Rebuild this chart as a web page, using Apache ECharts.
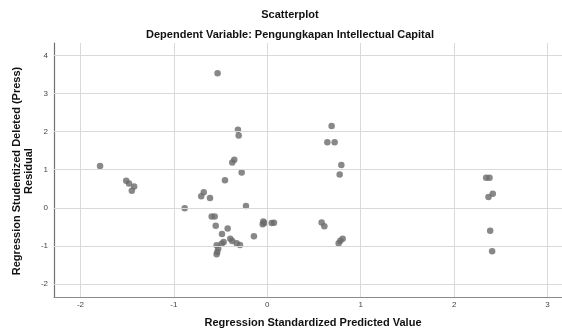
<!DOCTYPE html>
<html>
<head>
<meta charset="utf-8">
<script src="https://cdn.jsdelivr.net/npm/echarts@6/dist/echarts.min.js"></script>
<style>html,body{margin:0;padding:0;background:#fff}#c{width:562px;height:331px}</style>
</head>
<body>
<div id="c"></div>
<script>
const titleText = 'Scatterplot';
const subtitleText = 'Dependent Variable: Pengungkapan Intellectual Capital';
const xAxisTitle = 'Regression Standardized Predicted Value';
const yAxisTitle1 = 'Regression Studentized Deleted (Press)';
const yAxisTitle2 = 'Residual';
const xTicks = [-2, -1, 0, 1, 2, 3];
const yTicks = [-2, -1, 0, 1, 2, 3, 4];
const predicted = [
  -1.79, -1.51, -1.48, -1.425, -1.45, -0.884, -0.68, -0.707, -0.613, -0.532,
  -0.595, -0.563, -0.552, -0.453, -0.424, -0.485, -0.467, -0.488, -0.542, -0.525,
  -0.535, -0.542, -0.396, -0.375, -0.328, -0.292, -0.375, -0.353, -0.314, -0.306,
  -0.274, -0.228, -0.143, -0.049, -0.043, -0.032, 0.047, 0.072, 0.689, 0.643,
  0.721, 0.793, 0.775, 0.582, 0.611, 0.807, 0.782, 0.764, 2.343, 2.379,
  2.414, 2.368, 2.386, 2.407
];
const residual = [
  1.10, 0.71, 0.64, 0.56, 0.45, -0.01, 0.41, 0.30, 0.255, 3.53,
  -0.23, -0.23, -0.47, 0.725, -0.545, -0.69, -0.895, -0.947, -0.982, -1.07,
  -1.158, -1.22, -0.81, -0.87, -0.93, -0.98, 1.19, 1.263, 2.05, 1.895,
  0.925, 0.05, -0.746, -0.43, -0.36, -0.40, -0.40, -0.39, 2.149, 1.719,
  1.719, 1.123, 0.877, -0.386, -0.482, -0.816, -0.868, -0.93, 0.789, 0.789,
  0.368, 0.281, -0.605, -1.14
];
const points = predicted.map((x, i) => [x, residual[i]]);
const chart = echarts.init(document.getElementById('c'), null, {renderer: 'canvas'});
const boldFont = 'bold 11px "Liberation Sans", Arial, sans-serif';
const labelFont = '"Liberation Sans", Arial, sans-serif';
const gridLineStyle = {color: '#d9d9d9', width: 1, type: 'solid'};
const markData = xTicks.map(v => ({xAxis: v})).concat(yTicks.map(v => ({yAxis: v})));
chart.setOption({
  animation: false,
  backgroundColor: '#fff',
  grid: {left: 54, top: 43, right: 0, bottom: 34, containLabel: false},
  xAxis: {
    type: 'value', min: -2.283, max: 3.155,
    axisLine: {show: true, onZero: false, lineStyle: {color: '#8a8a8a', width: 1.2}},
    axisTick: {show: false},
    splitLine: {show: false},
    axisLabel: {
      margin: 4, fontSize: 8, color: '#444', fontFamily: labelFont,
      customValues: xTicks
    }
  },
  yAxis: {
    type: 'value', min: -2.342, max: 4.326,
    axisLine: {show: true, onZero: false, lineStyle: {color: '#707070', width: 1.2}},
    axisTick: {show: false},
    splitLine: {show: false},
    axisLabel: {
      margin: 6, fontSize: 8, color: '#444', fontFamily: labelFont,
      customValues: yTicks
    }
  },
  series: [{
    type: 'scatter',
    data: [],
    z: 1,
    silent: true,
    markLine: {
      silent: true,
      symbol: ['none', 'none'],
      label: {show: false},
      lineStyle: gridLineStyle,
      emphasis: {disabled: true},
      data: markData
    }
  }, {
    type: 'scatter',
    data: points,
    z: 3,
    symbol: 'circle',
    symbolSize: 6.5,
    itemStyle: {color: '#6a6a6a'}
  }],
  graphic: [
    {type: 'text', x: 290, y: 15, style: {text: titleText, font: boldFont, fill: '#111', textAlign: 'center', textVerticalAlign: 'middle'}},
    {type: 'text', x: 290, y: 35, style: {text: subtitleText, font: boldFont, fill: '#111', textAlign: 'center', textVerticalAlign: 'middle'}},
    {type: 'text', x: 313, y: 323, style: {text: xAxisTitle, font: boldFont, fill: '#111', textAlign: 'center', textVerticalAlign: 'middle'}},
    {type: 'text', x: 17, y: 171, rotation: Math.PI / 2, style: {text: yAxisTitle1, font: boldFont, fill: '#111', textAlign: 'center', textVerticalAlign: 'middle'}},
    {type: 'text', x: 29, y: 171, rotation: Math.PI / 2, style: {text: yAxisTitle2, font: boldFont, fill: '#111', textAlign: 'center', textVerticalAlign: 'middle'}}
  ]
});
</script>
</body>
</html>
